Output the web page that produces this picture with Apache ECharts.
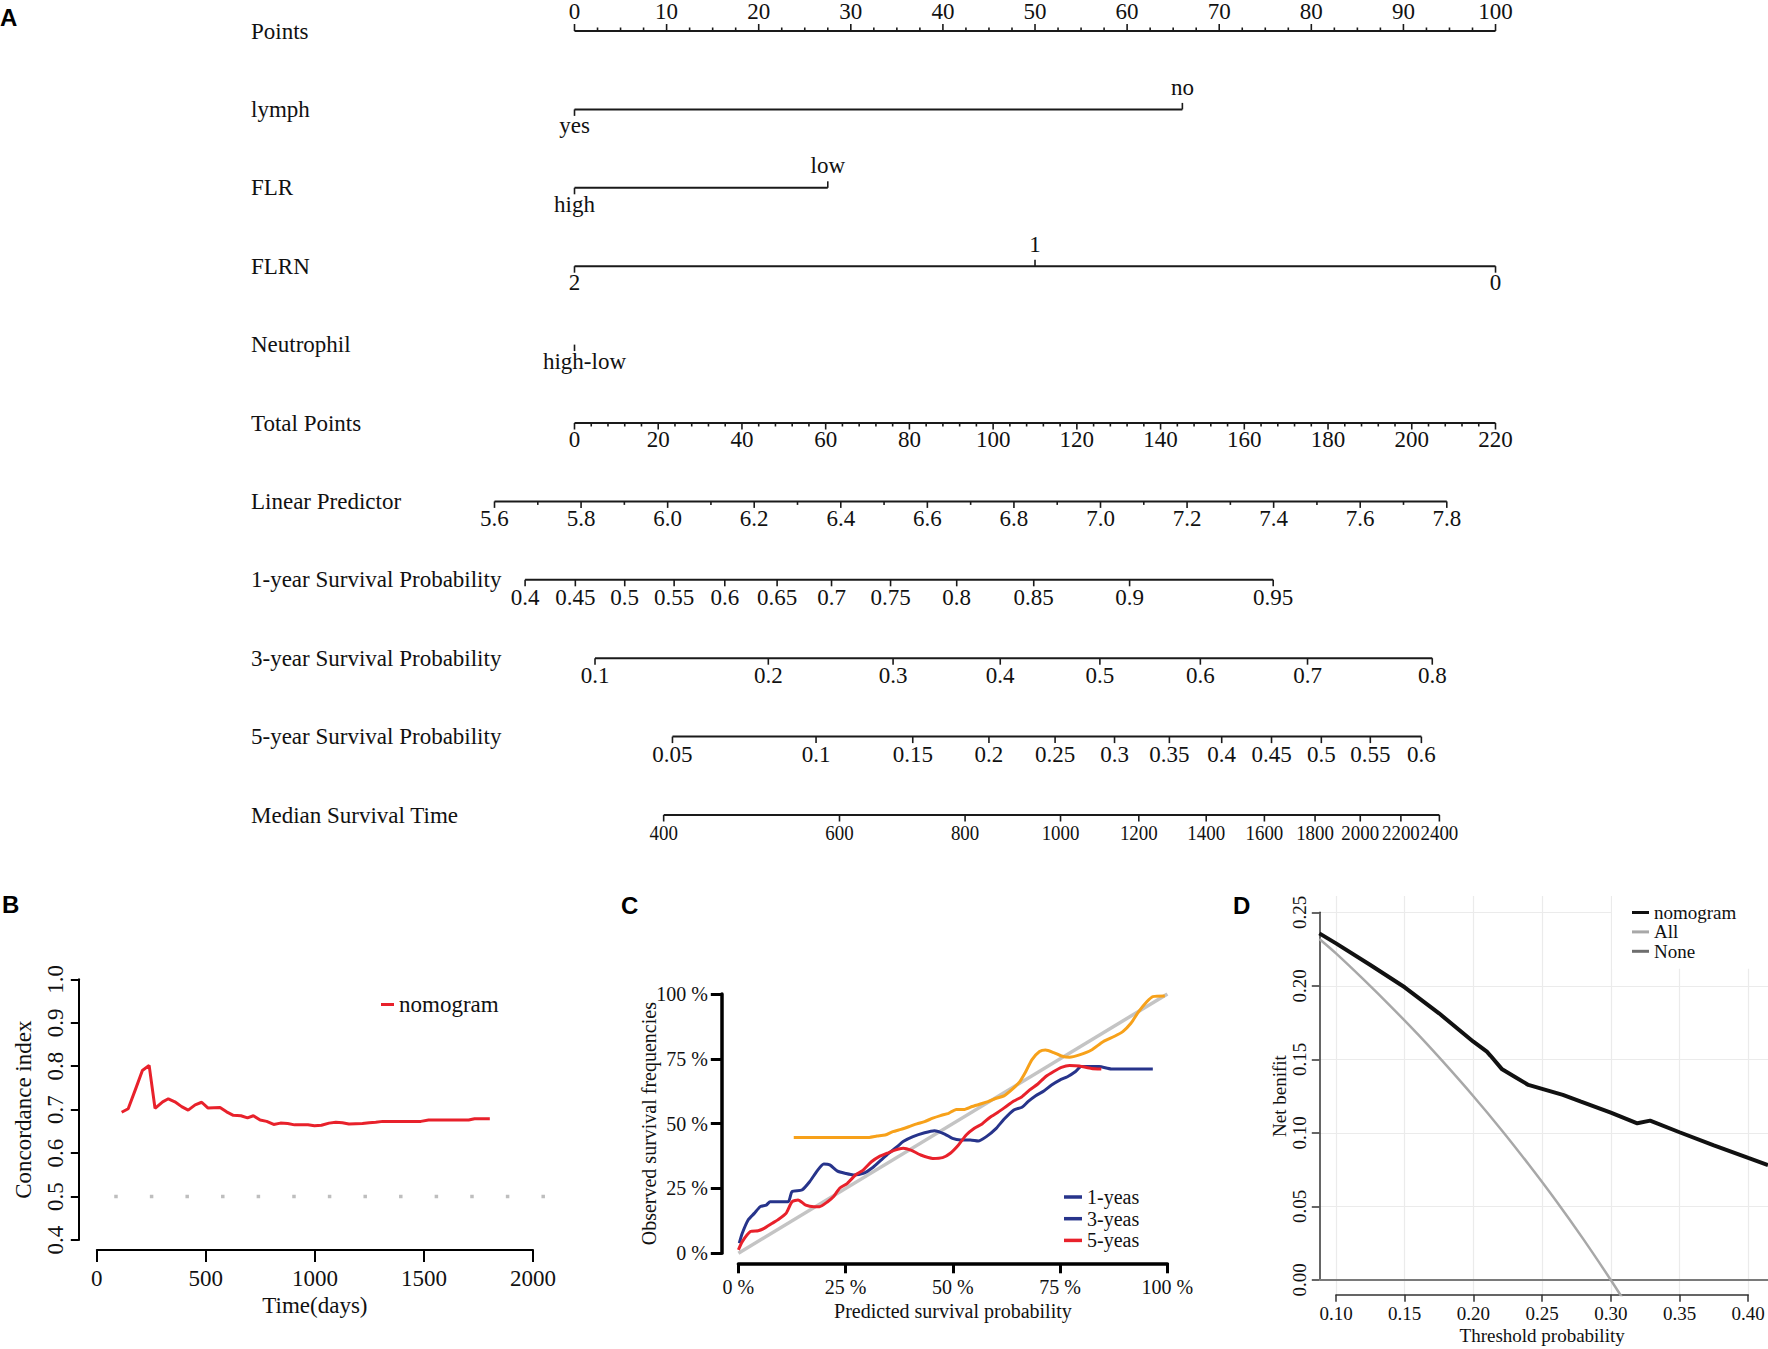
<!DOCTYPE html>
<html><head><meta charset="utf-8">
<script src="https://cdn.jsdelivr.net/npm/echarts@6/dist/echarts.min.js"></script>
<style>html,body{margin:0;padding:0;background:#fff}#c{width:1768px;height:1349px}</style>
</head><body><div id="c"></div>
<script>
// ================= Panel A : nomogram =================
const rowNames = ['Points','lymph','FLR','FLRN','Neutrophil','Total Points','Linear Predictor',
  '1-year Survival Probability','3-year Survival Probability','5-year Survival Probability','Median Survival Time'];
const pointsTickValues = [0,10,20,30,40,50,60,70,80,90,100];
const lymphLevels = ['yes','no'];          const lymphPoints = [0, 66];
const flrLevels = ['high','low'];          const flrPoints = [0, 27.5];
const flrnLevels = ['2','1','0'];          const flrnPoints = [0, 50, 100];
const neutrophilLevels = ['high-low'];     const neutrophilPoints = [0];
const totalPointsTickValues = [0,20,40,60,80,100,120,140,160,180,200,220];
const linearPredictorTicks = [5.6,5.8,6.0,6.2,6.4,6.6,6.8,7.0,7.2,7.4,7.6,7.8];
// outcome scales: label -> position on the Total Points scale
const surv1Labels = ['0.4','0.45','0.5','0.55','0.6','0.65','0.7','0.75','0.8','0.85','0.9','0.95'];
const surv1TotalPoints = [-11.8,0.2,12.0,23.8,35.9,48.4,61.4,75.5,91.3,109.7,132.6,166.9];
const surv3Labels = ['0.1','0.2','0.3','0.4','0.5','0.6','0.7','0.8'];
const surv3TotalPoints = [4.9,46.3,76.1,101.7,125.5,149.5,175.1,204.9];
const surv5Labels = ['0.05','0.1','0.15','0.2','0.25','0.3','0.35','0.4','0.45','0.5','0.55','0.6'];
const surv5TotalPoints = [23.4,57.7,80.8,99.0,114.8,129.0,142.1,154.6,166.5,178.4,190.1,202.3];
const medianLabels = ['400','600','800','1000','1200','1400','1600','1800','2000','2200','2400'];
const medianTotalPoints = [21.3,63.3,93.3,116.1,134.8,150.9,164.8,176.9,187.7,197.4,206.6];

// ================= Panel B : C-index over time =================
const bDays = [114,144,179,209,240,267,302,328,358,389,419,451,481,509,565,595,626,661,691,718,749,779,811,842,875,907,968,998,1030,1065,1096,1126,1156,1218,1249,1279,1311,1486,1521,1705,1732,1802];
const bCindex = [0.694,0.702,0.749,0.790,0.802,0.703,0.718,0.725,0.718,0.707,0.699,0.711,0.717,0.704,0.705,0.695,0.687,0.686,0.681,0.686,0.676,0.673,0.666,0.669,0.668,0.665,0.665,0.663,0.664,0.669,0.671,0.670,0.667,0.668,0.670,0.671,0.673,0.673,0.676,0.676,0.679,0.679];
const bReference = [[80,0.5],[2060,0.5]];

// ================= Panel C : calibration =================
const cIdeal = [[0,0],[100,100]];
const cYear1 = [[12.9,44.7],[20,44.7],[30.5,44.7],[32.3,45.2],[34.2,45.6],[36.0,46.9],[37.9,47.8],[39.7,48.8],[41.6,49.9],[43.4,50.8],[45.3,52.1],[47.1,53.1],[49.0,54.0],[50.8,55.5],[52.7,55.5],[54.5,56.6],[56.4,57.6],[58.2,58.5],[60.1,59.8],[61.9,60.7],[63.8,63.2],[65.6,66.2],[67.0,70.1],[68.4,74.6],[70.2,77.8],[71.6,78.4],[73.5,77.4],[75.3,76.1],[77.2,75.6],[79.5,76.5],[82.3,78.4],[85.0,81.6],[87.8,83.8],[89.6,85.5],[91.5,88.7],[93.3,93.2],[95.2,97.0],[96.6,99.0],[99.4,99.2]];
const cYear3 = [[0.2,3.9],[0.9,7.7],[2.3,12.9],[3.7,15.4],[5.1,18.0],[6.5,18.6],[7.4,19.9],[11.6,19.9],[12.5,23.8],[14.8,24.4],[16.6,27.6],[18.5,32.1],[19.9,34.4],[21.3,34.1],[23.1,31.7],[25.0,30.8],[26.8,30.2],[29.1,30.8],[31.4,33.2],[33.3,36.0],[35.1,38.6],[37.0,41.1],[38.4,43.1],[40.7,45.0],[43.4,46.5],[45.7,47.3],[48.1,46.0],[49.9,44.3],[51.8,43.7],[54.1,43.7],[55.9,43.3],[57.8,45.0],[60.1,48.2],[61.9,51.7],[64.2,55.3],[66.1,56.3],[67.5,58.5],[69.3,60.8],[71.2,62.6],[73.0,64.9],[74.9,66.8],[76.7,68.1],[78.6,70.1],[79.9,72.0],[84.1,72.0],[86.9,71.1],[96.6,71.1]];
const cYear5 = [[0,1.3],[0.9,4.5],[2.8,8.4],[4.6,8.7],[6.0,9.6],[7.9,11.6],[9.2,12.9],[11.1,15.4],[12.5,19.9],[13.9,20.6],[15.7,18.6],[17.6,18.0],[18.9,18.0],[20.8,19.9],[22.2,21.9],[23.6,25.1],[25.4,27.0],[27.3,30.2],[29.1,32.1],[31.0,35.3],[32.8,37.3],[34.7,38.6],[36.5,39.8],[38.4,40.5],[40.2,39.8],[42.5,37.9],[45.3,36.6],[47.6,36.9],[49.4,38.6],[51.3,41.8],[53.1,45.6],[55.0,48.2],[56.8,49.9],[58.6,52.4],[60.5,54.4],[62.4,56.6],[64.2,58.7],[66.1,60.4],[67.9,63.0],[69.8,65.3],[71.6,68.1],[73.5,70.1],[75.3,71.7],[77.2,72.4],[79.5,72.2],[82.3,71.3],[84.6,71.1]];

// ================= Panel D : decision curve =================
const dNomogram = [[0.0879,0.2358],[0.10,0.2290],[0.125,0.2143],[0.15,0.1991],[0.175,0.1814],[0.20,0.1621],[0.2098,0.1553],[0.2125,0.1525],[0.2209,0.1433],[0.23,0.1383],[0.24,0.1327],[0.25,0.1300],[0.2651,0.1259],[0.2783,0.1213],[0.30,0.1138],[0.3193,0.1066],[0.3286,0.1084],[0.35,0.1005],[0.375,0.0915],[0.40,0.0830],[0.4144,0.0782]];
const dAll = [[0.0879,0.2320],[0.10,0.2222],[0.12,0.2045],[0.14,0.1860],[0.16,0.1667],[0.18,0.1463],[0.20,0.1250],[0.22,0.1026],[0.24,0.0789],[0.26,0.0541],[0.28,0.0278],[0.30,0.0],[0.315,-0.0219]];
const dNone = [[0.0879,0],[0.4144,0]];

// ---------- styles ----------
const SERIF = '"Liberation Serif", "Times New Roman", serif';
const INK = '#111111';
const BLUE = '#27348B', RED = '#E8212B', ORANGE = '#F7A11A';

// ---------- nomogram rows -> custom-series items ----------
const itemsPts = [], itemsTP = [], itemsLP = [];
function tick(arr,row,x,dir,len,label,off,fs,sx,dx){ arr.push({kind:'tick',row,x,dir,len,label,off,fs:fs||23,sx:sx||1,dx:dx||0}); }
// Points (row 0), labels above
itemsPts.push({kind:'base',row:0,x:0,x2:100});
pointsTickValues.forEach((v,i)=>{
  tick(itemsPts,0,v,-1,7,String(v),20);
  if(i<pointsTickValues.length-1){const s=(pointsTickValues[i+1]-v)/4;for(let k=1;k<4;k++)tick(itemsPts,0,v+k*s,-1,3.5,null,0);}
});
[[1,lymphLevels,lymphPoints,0],[2,flrLevels,flrPoints,0],[3,flrnLevels,flrnPoints,0],[4,neutrophilLevels,neutrophilPoints,10]].forEach(([row,lv,pt,dx])=>{
  if(pt.length>1) itemsPts.push({kind:'base',row,x:Math.min(...pt),x2:Math.max(...pt)});
  lv.forEach((lab,i)=>{const up=i%2===1; tick(itemsPts,row,pt[i],up?-1:1,6.5,lab,up?22:16.5,23,1,dx);});
});
// Total Points (row 5)
itemsTP.push({kind:'base',row:5,x:0,x2:220});
totalPointsTickValues.forEach((v,i)=>{
  tick(itemsTP,5,v,1,6.5,String(v),16.5);
  if(i<totalPointsTickValues.length-1){const s=(totalPointsTickValues[i+1]-v)/5;for(let k=1;k<5;k++)tick(itemsTP,5,v+k*s,1,3.5,null,0);}
});
// Linear predictor (row 6)
itemsLP.push({kind:'base',row:6,x:linearPredictorTicks[0],x2:linearPredictorTicks[linearPredictorTicks.length-1]});
linearPredictorTicks.forEach((v,i)=>{
  tick(itemsLP,6,v,1,6.5,v.toFixed(1),17.5);
  if(i<linearPredictorTicks.length-1) tick(itemsLP,6,(v+linearPredictorTicks[i+1])/2,1,3.5,null,0);
});
// outcome rows 7..10
[[7,surv1Labels,surv1TotalPoints,23,1],[8,surv3Labels,surv3TotalPoints,23,1],[9,surv5Labels,surv5TotalPoints,23,1],[10,medianLabels,medianTotalPoints,22,0.86]].forEach(([row,labs,pos,fs,sx])=>{
  itemsTP.push({kind:'base',row,x:pos[0],x2:pos[pos.length-1]});
  labs.forEach((l,i)=>tick(itemsTP,row,pos[i],1,6.5,l,17.5,fs,sx));
});

function makeRender(items){
  return function(params, api){
    const it = items[params.dataIndex];
    if(it.kind==='base'){
      const a=api.coord([it.x,it.row]), b=api.coord([it.x2,it.row]);
      return {type:'line',shape:{x1:a[0],y1:a[1],x2:b[0],y2:b[1]},style:{stroke:'#1a1a1a',lineWidth:2}};
    }
    const p=api.coord([it.x,it.row]);
    const ch=[{type:'line',shape:{x1:p[0],y1:p[1],x2:p[0],y2:p[1]+it.dir*it.len},style:{stroke:'#1a1a1a',lineWidth:1.6}}];
    if(it.label!=null) ch.push({type:'text',x:p[0]+it.dx,y:p[1]+it.dir*it.off,scaleX:it.sx,
      style:{text:it.label,fontSize:it.fs,fontFamily:SERIF,fill:INK,align:'center',verticalAlign:'middle'}});
    return {type:'group',children:ch};
  };
}
function nomoSeries(items, xIdx){
  return {type:'custom',xAxisIndex:xIdx,yAxisIndex:0,silent:true,renderItem:makeRender(items),
    data:items.map(it=>[it.x,it.row]),z:5};
}

const axisText = (size)=>({fontFamily:SERIF,fontSize:size,color:INK});
const hiddenX = (g,min,max)=>({gridIndex:g,type:'value',min,max,show:false});
const panelLabel = (t,l,tp)=>({type:'text',left:l,top:tp,style:{text:t,font:'bold 24px "Liberation Sans", Arial, sans-serif',fill:'#000'}});

const option = {
  animation:false,
  backgroundColor:'#ffffff',
  graphic:[panelLabel('A',0,5),panelLabel('B',2,892),panelLabel('C',621,893),panelLabel('D',1233,893)],
  grid:[
    {left:420,width:1140,top:31,height:784},            // 0 A
    {left:96.8,width:436.2,top:979.3,height:260.7},     // 1 B axes
    {left:738.4,width:429,top:994,height:259.3},        // 2 C
    {left:1319.3,right:0,top:896,bottom:54},            // 3 D data
    {left:1336,width:412.2,top:912.3,height:367.5},     // 4 D axes
    {left:60,width:500,top:979.3,height:260.7}          // 5 B data
  ],
  xAxis:[
    hiddenX(0,-16.775,107.0),      // 0 points units
    hiddenX(0,-36.905,235.41),     // 1 total points units
    hiddenX(0,5.42789,8.06154),    // 2 linear predictor units
    {gridIndex:1,type:'value',min:0,max:2000,interval:500,offset:10,
      axisLine:{show:true,onZero:false,lineStyle:{color:'#000',width:2}},axisTick:{show:true,length:12,lineStyle:{color:'#000',width:2}},
      axisLabel:Object.assign({margin:17,formatter:v=>String(v)},axisText(23)),splitLine:{show:false},
      name:'Time(days)',nameLocation:'middle',nameGap:44,nameTextStyle:axisText(23)},
    {gridIndex:2,type:'value',min:0,max:100,interval:25,offset:10,
      axisLine:{show:true,onZero:false,lineStyle:{color:'#000',width:3.5}},axisTick:{show:true,length:10,lineStyle:{color:'#000',width:3}},
      axisLabel:Object.assign({margin:14,formatter:v=>v+' %'},axisText(20)),splitLine:{show:false},
      name:'Predicted survival probability',nameLocation:'middle',nameGap:38,nameTextStyle:axisText(20)},
    {gridIndex:3,type:'value',min:0.08785,max:0.4144,splitNumber:7,
      axisLine:{show:false},axisTick:{show:false},axisLabel:{show:false},
      splitLine:{show:true,showMinLine:false,showMaxLine:false,lineStyle:{color:'#EBEBEB',width:1.2}}},
    {gridIndex:4,type:'value',min:0.1,max:0.4,interval:0.05,offset:15,
      axisLine:{show:true,onZero:false,lineStyle:{color:'#333',width:1.5}},axisTick:{show:true,length:7,lineStyle:{color:'#333',width:1.5}},
      axisLabel:Object.assign({margin:9,formatter:v=>v.toFixed(2)},axisText(19)),splitLine:{show:false},
      name:'Threshold probability',nameLocation:'middle',nameGap:31,nameTextStyle:axisText(19)},
    hiddenX(5,-168.7,2123.8)       // 7 B data (days)
  ],
  yAxis:[
    {gridIndex:0,type:'value',min:0,max:10,interval:1,inverse:true,
      axisLine:{show:false},axisTick:{show:false},splitLine:{show:false},
      axisLabel:Object.assign({margin:169,align:'left',padding:[0,0,5,0],formatter:v=>rowNames[v]||''},axisText(23))},
    {gridIndex:1,type:'value',min:0.4,max:1.0,interval:0.1,offset:18,
      axisLine:{show:true,onZero:false,lineStyle:{color:'#000',width:2}},axisTick:{show:true,length:8,lineStyle:{color:'#000',width:2}},
      axisLabel:Object.assign({margin:12,rotate:90,formatter:v=>v.toFixed(1)},axisText(23)),splitLine:{show:false},
      name:'Concordance index',nameLocation:'middle',nameRotate:90,nameGap:44,nameTextStyle:axisText(23)},
    {gridIndex:2,type:'value',min:0,max:100,interval:25,offset:16.6,
      axisLine:{show:true,onZero:false,lineStyle:{color:'#000',width:3.5}},axisTick:{show:true,length:11,lineStyle:{color:'#000',width:3}},
      axisLabel:Object.assign({margin:14,formatter:v=>v+' %'},axisText(20)),splitLine:{show:false},
      name:'Observed survival frequencies',nameLocation:'middle',nameRotate:90,nameGap:63,nameMoveOverlap:false,nameTextStyle:axisText(20)},
    {gridIndex:3,type:'value',min:-0.0102,max:0.2612,splitNumber:5,
      axisLine:{show:false},axisTick:{show:false},axisLabel:{show:false},
      splitLine:{show:true,showMinLine:false,showMaxLine:false,lineStyle:{color:'#EBEBEB',width:1.2}}},
    {gridIndex:4,type:'value',min:0,max:0.25,interval:0.05,offset:16.7,
      axisLine:{show:true,onZero:false,lineStyle:{color:'#333',width:1.5}},axisTick:{show:true,length:7.5,lineStyle:{color:'#333',width:1.5}},
      axisLabel:Object.assign({margin:10,rotate:90,formatter:v=>v.toFixed(2)},axisText(19)),splitLine:{show:false},
      name:'Net benifit',nameLocation:'middle',nameRotate:90,nameGap:29,nameTextStyle:axisText(19)},
    {gridIndex:5,type:'value',min:0.4,max:1.0,show:false}   // 5 B data
  ],
  legend:[
    {left:381,top:993,padding:0,itemWidth:13,itemHeight:3,icon:'rect',selectedMode:false,
      data:[{name:'nomogram',itemStyle:{color:RED}}],textStyle:axisText(23)},
    {left:1064,top:1187,padding:0,orient:'vertical',itemGap:1.7,itemWidth:18,itemHeight:3.5,icon:'rect',selectedMode:false,
      data:[{name:'1-yeas',itemStyle:{color:BLUE}},{name:'3-yeas',itemStyle:{color:BLUE}},{name:'5-yeas',itemStyle:{color:RED}}],textStyle:axisText(20)},
    {left:1612,top:880,padding:[23,60,8,20],orient:'vertical',itemGap:0.4,itemWidth:17,itemHeight:3,icon:'rect',selectedMode:false,
      backgroundColor:'#ffffff',
      data:[{name:'nomogram',itemStyle:{color:'#111'}},{name:'All',itemStyle:{color:'#A8A8A8'}},{name:'None',itemStyle:{color:'#6E6E6E'}}],textStyle:axisText(19)}
  ],
  series:[
    nomoSeries(itemsPts,0), nomoSeries(itemsTP,1), nomoSeries(itemsLP,2),
    // B
    {type:'line',name:'reference',xAxisIndex:7,yAxisIndex:5,data:bReference,symbol:'none',silent:true,
      lineStyle:{color:'#BEBEBE',width:3.5,type:[3.5,32.1]}},
    {type:'line',name:'nomogram',xAxisIndex:7,yAxisIndex:5,data:bDays.map((d,i)=>[d,bCindex[i]]),symbol:'none',
      lineStyle:{color:RED,width:3},itemStyle:{color:RED}},
    // C
    {type:'line',name:'ideal',xAxisIndex:4,yAxisIndex:2,data:cIdeal,symbol:'none',silent:true,
      lineStyle:{color:'#C4C4C4',width:3.5}},
    {type:'line',name:'3-yeas',xAxisIndex:4,yAxisIndex:2,data:cYear3,symbol:'none',smooth:0.2,
      lineStyle:{color:BLUE,width:3},itemStyle:{color:BLUE}},
    {type:'line',name:'5-yeas',xAxisIndex:4,yAxisIndex:2,data:cYear5,symbol:'none',smooth:0.2,
      lineStyle:{color:RED,width:3},itemStyle:{color:RED}},
    {type:'line',name:'1-yeas',xAxisIndex:4,yAxisIndex:2,data:cYear1,symbol:'none',smooth:0.2,
      lineStyle:{color:ORANGE,width:3},itemStyle:{color:ORANGE}},
    // D
    {type:'line',name:'None',xAxisIndex:5,yAxisIndex:3,data:dNone,symbol:'none',
      lineStyle:{color:'#7A7A7A',width:2},itemStyle:{color:'#7A7A7A'}},
    {type:'line',name:'All',xAxisIndex:5,yAxisIndex:3,data:dAll,symbol:'none',smooth:0.3,
      lineStyle:{color:'#A8A8A8',width:2.5},itemStyle:{color:'#A8A8A8'}},
    {type:'line',name:'nomogram',xAxisIndex:5,yAxisIndex:3,data:dNomogram,symbol:'none',
      lineStyle:{color:'#111',width:4},itemStyle:{color:'#111'}}
  ]
};
const chart = echarts.init(document.getElementById('c'), null, {renderer:'svg'});
chart.setOption(option);
</script></body></html>
